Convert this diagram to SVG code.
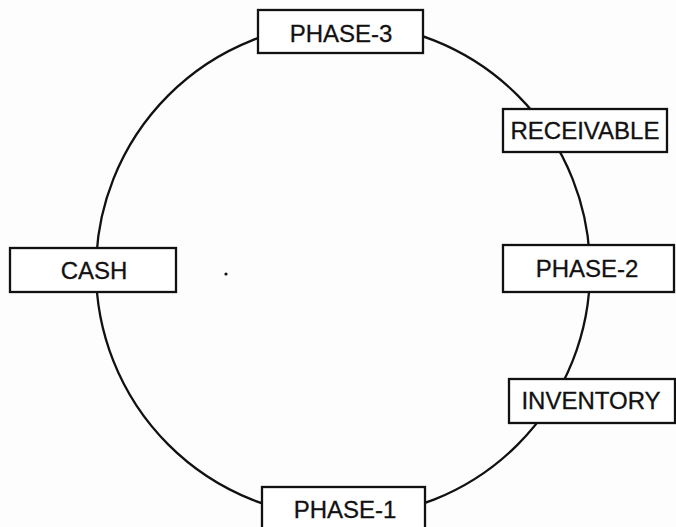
<svg xmlns="http://www.w3.org/2000/svg" width="676" height="527" viewBox="0 0 676 527">
<style>
.box{fill:#fff;stroke:#111;stroke-width:2.3}
.lbl{font-family:"Liberation Sans",Arial,sans-serif;font-size:24px;fill:#111;stroke:#111;stroke-width:0.3;text-anchor:middle}
.cyc{fill:none;stroke:#111;stroke-width:2.3}
</style>
<rect width="676" height="527" fill="#fdfdfd"/>
<g id="connectors">
<circle class="cyc" cx="343" cy="270" r="247"/>
</g>
<circle cx="226" cy="274" r="1.6" fill="#111"/>
<g id="phase3"><rect class="box" x="258" y="10" width="165" height="43"/><text class="lbl" x="341" y="42">PHASE-3</text></g>
<g id="receivable"><rect class="box" x="503" y="109" width="164" height="43"/><text class="lbl" x="585" y="139">RECEIVABLE</text></g>
<g id="phase2"><rect class="box" x="503" y="245" width="171" height="47"/><text class="lbl" x="587" y="277">PHASE-2</text></g>
<g id="inventory"><rect class="box" x="509" y="379" width="166" height="44"/><text class="lbl" x="591" y="409">INVENTORY</text></g>
<g id="phase1"><rect class="box" x="262" y="487" width="163" height="50"/><text class="lbl" x="345" y="518">PHASE-1</text></g>
<g id="cash"><rect class="box" x="10" y="248" width="166" height="44"/><text class="lbl" x="94" y="279">CASH</text></g>
</svg>
